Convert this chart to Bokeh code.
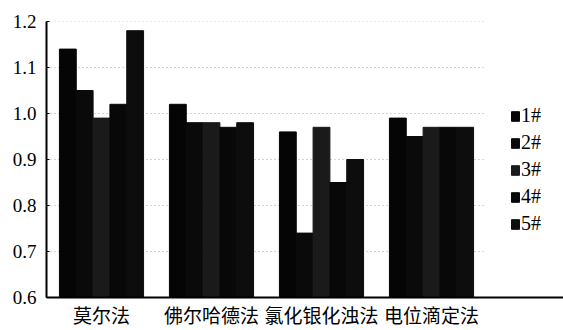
from bokeh.plotting import figure
from bokeh.models import Legend, LegendItem, FixedTicker, Range1d
from bokeh.embed import file_html
from bokeh.resources import INLINE

categories = ["莫尔法", "佛尔哈德法", "氯化银化浊法", "电位滴定法"]
series = ["1#", "2#", "3#", "4#", "5#"]
s1 = [1.14, 1.02, 0.96, 0.99]
s2 = [1.05, 0.98, 0.74, 0.95]
s3 = [0.99, 0.98, 0.97, 0.97]
s4 = [1.02, 0.97, 0.85, 0.97]
s5 = [1.18, 0.98, 0.90, 0.97]
values = [s1, s2, s3, s4, s5]
y_ticks = [0.6, 0.7, 0.8, 0.9, 1.0, 1.1, 1.2]
colors = ["#050505", "#0a0a0a", "#1a1a1a", "#080808", "#0d0d0d"]

SERIF = "Liberation Serif"

p = figure(width=563, height=330, output_backend="svg", toolbar_location=None,
           x_range=Range1d(0, 4.7), y_range=Range1d(0.6, 1.2),
           min_border_left=46, min_border_right=0, min_border_top=21, min_border_bottom=30)
p.outline_line_color = None
p.xgrid.visible = False
p.ygrid.visible = False

centers = [i + 0.5 for i in range(len(categories))]
bw = 0.153
renderers = []
for k, vals in enumerate(values):
    xs = [c + (k - 2) * bw for c in centers]
    r = p.vbar(x=xs, top=vals, bottom=0.6, width=bw, fill_color=colors[k], line_color=colors[k])
    renderers.append(r)

# dotted gridlines over category region
p.segment(x0=[0] * (len(y_ticks) - 1), x1=[len(categories)] * (len(y_ticks) - 1),
          y0=y_ticks[1:], y1=y_ticks[1:], line_color="#a8a8a8", line_dash="1 3", line_width=1,
          level="underlay")

p.xaxis.ticker = FixedTicker(ticks=centers)
p.xaxis.major_label_overrides = {c: lab for c, lab in zip(centers, categories)}
p.xaxis.major_tick_in = 0
p.xaxis.major_tick_out = 0
p.xaxis.minor_tick_line_color = None
p.xaxis.axis_line_width = 2
p.xaxis.axis_line_color = "black"
p.xaxis.major_label_text_font = "Noto Sans CJK SC"
p.xaxis.major_label_text_font_size = "19px"
p.xaxis.major_label_text_color = "black"
p.xaxis.major_label_standoff = 3

p.yaxis.ticker = FixedTicker(ticks=y_ticks)
p.yaxis.major_label_overrides = {t: f"{t:.1f}" for t in y_ticks}
p.yaxis.major_tick_in = 3
p.yaxis.major_tick_out = 0
p.yaxis.minor_tick_line_color = None
p.yaxis.axis_line_width = 2
p.yaxis.axis_line_color = "black"
p.yaxis.major_label_text_font = SERIF
p.yaxis.major_label_text_font_size = "19px"
p.yaxis.major_label_text_color = "black"
p.yaxis.major_label_standoff = 10

legend = Legend(items=[LegendItem(label=s, renderers=[r]) for s, r in zip(series, renderers)],
                location=(464, 62), margin=0, padding=0, spacing=4,
                glyph_width=10, glyph_height=12, label_height=22, label_standoff=1,
                label_text_font=SERIF, label_text_font_size="20px", label_text_color="black",
                border_line_color=None, background_fill_alpha=0)
p.add_layout(legend)

open("out.html", "w").write(file_html(p, INLINE))
